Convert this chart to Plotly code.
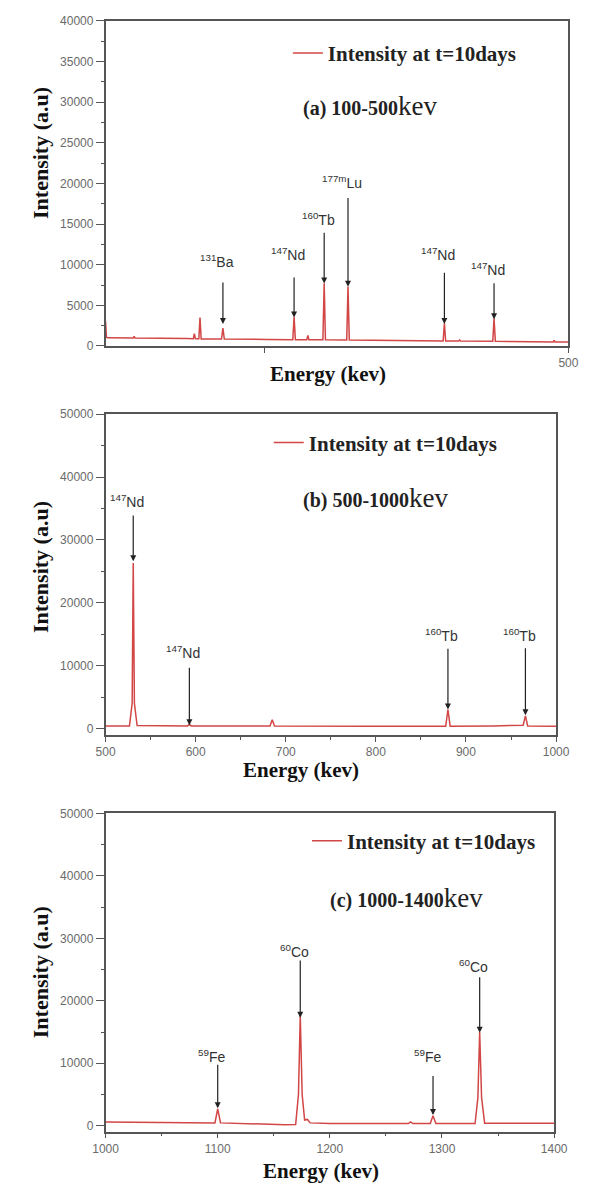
import plotly.graph_objects as go

# ---------------- data ----------------
# Panel (a) 100-500 keV
energy_a = [100, 100.8, 102, 124, 124.7, 125.5, 170, 175.8, 176.7, 177.6, 180.6, 181.6, 182.6,
            200.2, 201.4, 202.6, 240, 261.8, 262.9, 264.0, 273.9, 274.8, 275.7, 287.8, 288.9, 290.0,
            308.4, 309.5, 310.6, 350, 391.7, 392.8, 393.9, 405.2, 406.0, 406.8, 434.6, 435.7, 436.8,
            486.8, 487.6, 488.4, 500]
intensity_a = [3000, 1050, 1000, 980, 1200, 970, 920, 900, 1500, 890, 880, 3500, 870,
               860, 2200, 850, 800, 780, 3600, 780, 770, 1300, 770, 760, 7700, 760,
               750, 7300, 740, 700, 620, 2800, 620, 600, 750, 600, 580, 3400, 570,
               500, 700, 500, 480]

# Panel (b) 500-1000 keV
energy_b = [500, 526.5, 529.5, 530.7, 532, 535, 591, 593, 595, 682.5, 685, 687.5, 800,
            877.5, 880, 882.5, 930, 963.5, 966, 968.5, 1000]
intensity_b = [400, 400, 4000, 26300, 4000, 450, 400, 650, 400, 380, 1400, 380, 350,
               350, 3000, 350, 400, 500, 2000, 400, 350]

# Panel (c) 1000-1400 keV
energy_c = [1000, 1097.5, 1100, 1102.5, 1160, 1169.5, 1172, 1173.6, 1175.3, 1177.5, 1180, 1182.5,
            1200, 1270, 1272, 1274, 1289.5, 1292, 1294.5, 1329.5, 1332, 1333.6, 1335.3, 1338, 1400]
intensity_c = [600, 450, 2700, 450, 150, 200, 5000, 17700, 5000, 900, 1000, 450,
               350, 350, 600, 350, 350, 1600, 350, 350, 4500, 15000, 4500, 400, 400]

# Peak annotations: energy, arrow top, arrow tip, label height, isotope
peak_e_a = [201.4, 262.9, 288.9, 309.5, 392.8, 435.7]
arrow_top_a = [8000, 8600, 14100, 18400, 9200, 7900]
arrow_tip_a = [2700, 3500, 7700, 7300, 2700, 3300]
label_y_a = [10500, 11300, 15600, 20200, 11300, 9500]
mass_a = ["131", "147", "160", "177m", "147", "147"]
elem_a = ["Ba", "Nd", "Tb", "Lu", "Nd", "Nd"]

peak_e_b = [530.7, 593, 880, 966]
arrow_top_b = [34100, 9900, 12900, 13000]
arrow_tip_b = [26600, 500, 3000, 2100]
label_y_b = [36200, 12100, 14900, 14900]
mass_b = ["147", "147", "160", "160"]
elem_b = ["Nd", "Nd", "Tb", "Tb"]

peak_e_c = [1100, 1173.6, 1292, 1333.6]
arrow_top_c = [10000, 26700, 8200, 24000]
arrow_tip_c = [2800, 17300, 1700, 14900]
label_y_c = [11100, 28000, 11100, 25600]
mass_c = ["59", "60", "59", "60"]
elem_c = ["Fe", "Co", "Fe", "Co"]

series_name = "Intensity at t=10days"

# ---------------- figure ----------------
W, H = 592, 1192
RED = "#d24646"
AX = "#555555"
SERIF = "Liberation Serif"
SANS = "Liberation Sans"

fig = go.Figure()
fig.add_trace(go.Scatter(x=energy_a, y=intensity_a, mode="lines", line=dict(color=RED, width=1.5),
                         name="<b>" + series_name + "</b>", xaxis="x", yaxis="y", legend="legend"))
fig.add_trace(go.Scatter(x=energy_b, y=intensity_b, mode="lines", line=dict(color=RED, width=1.5),
                         name="<b>" + series_name + "</b>", xaxis="x2", yaxis="y2", legend="legend2"))
fig.add_trace(go.Scatter(x=energy_c, y=intensity_c, mode="lines", line=dict(color=RED, width=1.5),
                         name="<b>" + series_name + "</b>", xaxis="x3", yaxis="y3", legend="legend3"))


def px_x(p):
    return p / W


def px_y(p):
    return 1 - p / H


common_axis = dict(showline=True, linecolor=AX, linewidth=1.5, mirror=True, showgrid=False,
                   zeroline=False, ticks="outside", ticklen=5, tickcolor=AX, tickwidth=1,
                   tickfont=dict(family=SANS, size=12, color="#6a6a6a"))
y_axis = dict(common_axis, ticklen=8)

fig.update_layout(
    width=W, height=H, margin=dict(l=0, r=0, t=0, b=0),
    paper_bgcolor="white", plot_bgcolor="white", showlegend=True,
    xaxis=dict(domain=[px_x(97), px_x(582)], anchor="y", range=[100, 500],
               tickvals=[237, 500], ticktext=["", "500"], **common_axis),
    yaxis=dict(domain=[px_y(343), px_y(14)], anchor="x", range=[0, 40000], dtick=5000,
               tickformat="d", minor=dict(dtick=2500, ticks="outside", ticklen=3, tickcolor=AX),
               **y_axis),
    xaxis2=dict(domain=[px_x(97), px_x(569)], anchor="y2", range=[500, 1000], dtick=100,
                tickformat="d", minor=dict(dtick=50, ticks="outside", ticklen=3, tickcolor=AX),
                **common_axis),
    yaxis2=dict(domain=[px_y(737), px_y(412)], anchor="x2", range=[-1100, 50000], dtick=10000,
                tickformat="d", minor=dict(dtick=5000, ticks="outside", ticklen=3, tickcolor=AX),
                **y_axis),
    xaxis3=dict(domain=[px_x(97), px_x(567)], anchor="y3", range=[1000, 1400], dtick=100,
                tickformat="d", minor=dict(dtick=50, ticks="outside", ticklen=3, tickcolor=AX),
                **common_axis),
    yaxis3=dict(domain=[px_y(1138), px_y(816)], anchor="x3", range=[-950, 50000], dtick=10000,
                tickformat="d", minor=dict(dtick=5000, ticks="outside", ticklen=3, tickcolor=AX),
                **y_axis),
)

leg_common = dict(xanchor="left", yanchor="middle", bgcolor="rgba(0,0,0,0)", borderwidth=0,
                  font=dict(family=SERIF, size=21, color="#222222"))
fig.update_layout(
    legend=dict(x=px_x(288), y=px_y(47), **leg_common),
    legend2=dict(x=px_x(268), y=px_y(441), **leg_common),
    legend3=dict(x=px_x(308), y=px_y(844), **leg_common),
)

annotations = []

# axis titles
for cy in [148, 567, 977]:
    annotations.append(dict(text="<b>Intensity (a.u)</b>", xref="paper", yref="paper",
                            x=px_x(29), y=px_y(cy), xanchor="center", yanchor="middle",
                            textangle=-90, showarrow=False,
                            font=dict(family=SERIF, size=22, color="#111111")))
for cx, cy in [(330, 371), (302, 772), (323, 1178)]:
    annotations.append(dict(text="<b>Energy (kev)</b>", xref="paper", yref="paper",
                            x=px_x(cx), y=px_y(cy), xanchor="center", yanchor="middle",
                            showarrow=False, font=dict(family=SERIF, size=21, color="#111111")))

# panel captions
for lbl, rng, lx, ly in [("(a)", "100-500", 302, 100), ("(b)", "500-1000", 302, 497),
                         ("(c)", "1000-1400", 330, 902)]:
    annotations.append(dict(text="<b>" + lbl + " " + rng + "</b><span style='font-size:27px'>kev</span>",
                            xref="paper", yref="paper", x=px_x(lx), y=px_y(ly),
                            xanchor="left", yanchor="middle", showarrow=False,
                            font=dict(family=SERIF, size=20, color="#222222")))

# peak arrows and labels
for axn, pe, at, ati, ly, ms, el in [("", peak_e_a, arrow_top_a, arrow_tip_a, label_y_a, mass_a, elem_a),
                                     ("2", peak_e_b, arrow_top_b, arrow_tip_b, label_y_b, mass_b, elem_b),
                                     ("3", peak_e_c, arrow_top_c, arrow_tip_c, label_y_c, mass_c, elem_c)]:
    for e, t, tip, yl, m, s in zip(pe, at, ati, ly, ms, el):
        annotations.append(dict(x=e, y=tip, ax=e, ay=t, xref="x" + axn, yref="y" + axn,
                                axref="x" + axn, ayref="y" + axn, text="", showarrow=True,
                                arrowhead=2, arrowsize=1, arrowwidth=1.2, arrowcolor="#222222"))
        annotations.append(dict(x=e, y=yl, xref="x" + axn, yref="y" + axn, xshift=-6,
                                text="<sup>" + m + "</sup>" + s, showarrow=False,
                                xanchor="center", yanchor="middle",
                                font=dict(family=SANS, size=14, color="#333333")))

fig.update_layout(annotations=annotations)

fig.write_html("out.html")
